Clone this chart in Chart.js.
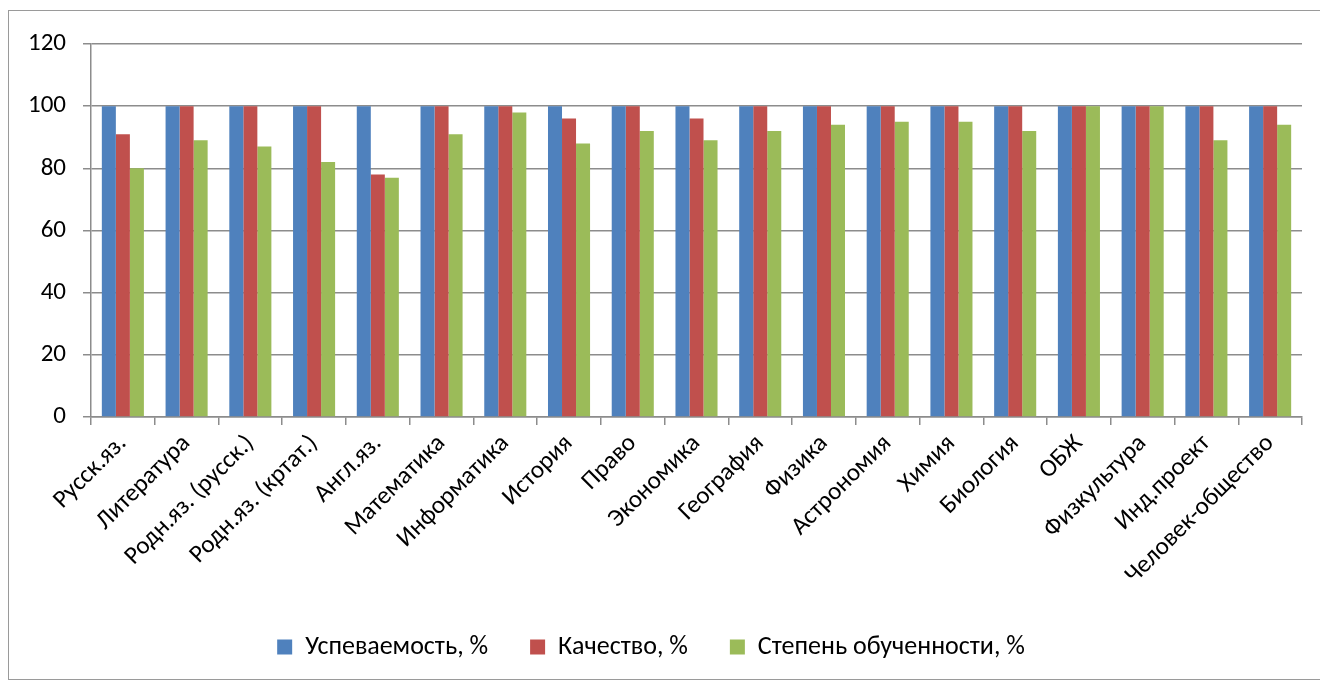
<!DOCTYPE html>
<html lang="ru">
<head>
    <meta charset="UTF-8">
    <title>Успеваемость по предметам</title>
    <script src="https://cdn.jsdelivr.net/npm/chart.js"></script>
    <style>
        html, body { margin: 0; padding: 0; background: #fff; }
        #wrap { position: relative; width: 1320px; height: 682px; }
        #frame { position: absolute; left: 8px; top: 10px; width: 1320px; height: 670px; border: 1px solid #9a9a9a; box-sizing: border-box; pointer-events: none; }
    </style>
</head>
<body>
    <div id="wrap">
        <canvas id="chart" width="1320" height="682"></canvas>
        <div id="frame"></div>
    </div>
    <script>
    const subjects = ['Русск.яз.', 'Литература', 'Родн.яз. (русск.)', 'Родн.яз. (кртат.)', 'Англ.яз.', 'Математика', 'Информатика', 'История', 'Право', 'Экономика', 'География', 'Физика', 'Астрономия', 'Химия', 'Биология', 'ОБЖ', 'Физкультура', 'Инд.проект', 'Человек-общество'];
    const uspevaemost = [100, 100, 100, 100, 100, 100, 100, 100, 100, 100, 100, 100, 100, 100, 100, 100, 100, 100, 100];
    const kachestvo = [91, 100, 100, 100, 78, 100, 100, 96, 100, 96, 100, 100, 100, 100, 100, 100, 100, 100, 100];
    const obuchennost = [80, 89, 87, 82, 77, 91, 98, 88, 92, 89, 92, 94, 95, 95, 92, 100, 100, 89, 94];
    const seriesNames = ['Успеваемость, %', 'Качество, %', 'Степень обученности, %'];
    const yTicks = [0, 20, 40, 60, 80, 100, 120];

    const fontFamily = "Carlito, 'Liberation Sans', 'Open Sans', sans-serif";
    const gridColor = '#8c8c8c';

    new Chart(document.getElementById('chart'), {
        type: 'bar',
        data: {
            labels: subjects,
            datasets: [
                { label: seriesNames[0], data: uspevaemost, backgroundColor: '#4F81BD' },
                { label: seriesNames[1], data: kachestvo, backgroundColor: '#C0504D' },
                { label: seriesNames[2], data: obuchennost, backgroundColor: '#9BBB59' }
            ]
        },
        options: {
            responsive: false,
            animation: false,
            devicePixelRatio: 1,
            layout: { padding: { left: 0, right: 18, top: 44, bottom: 12 } },
            datasets: { bar: { categoryPercentage: 0.66, barPercentage: 1 } },
            plugins: {
                legend: {
                    position: 'bottom',
                    labels: {
                        boxWidth: 15, boxHeight: 15, padding: 42,
                        color: '#000', font: { family: fontFamily, size: 26 }
                    }
                },
                tooltip: { enabled: false }
            },
            scales: {
                x: {
                    afterFit: s => { s.height = 175; },
                    grid: { drawOnChartArea: false, tickLength: 8, color: gridColor, lineWidth: 1.5 },
                    border: { color: gridColor, width: 1.5 },
                    ticks: {
                        minRotation: 45, maxRotation: 45, autoSkip: false, padding: 4,
                        color: '#000', font: { family: fontFamily, size: 25 }
                    }
                },
                y: {
                    min: 0, max: 120,
                    afterFit: s => { s.width = 91; },
                    afterBuildTicks: s => { s.ticks = yTicks.map(v => ({ value: v })); },
                    grid: { color: gridColor, lineWidth: 1.5, tickLength: 8 },
                    border: { color: gridColor, width: 1.5 },
                    ticks: { color: '#000', padding: 17, font: { family: fontFamily, size: 25 } }
                }
            }
        }
    });
    </script>
</body>
</html>
